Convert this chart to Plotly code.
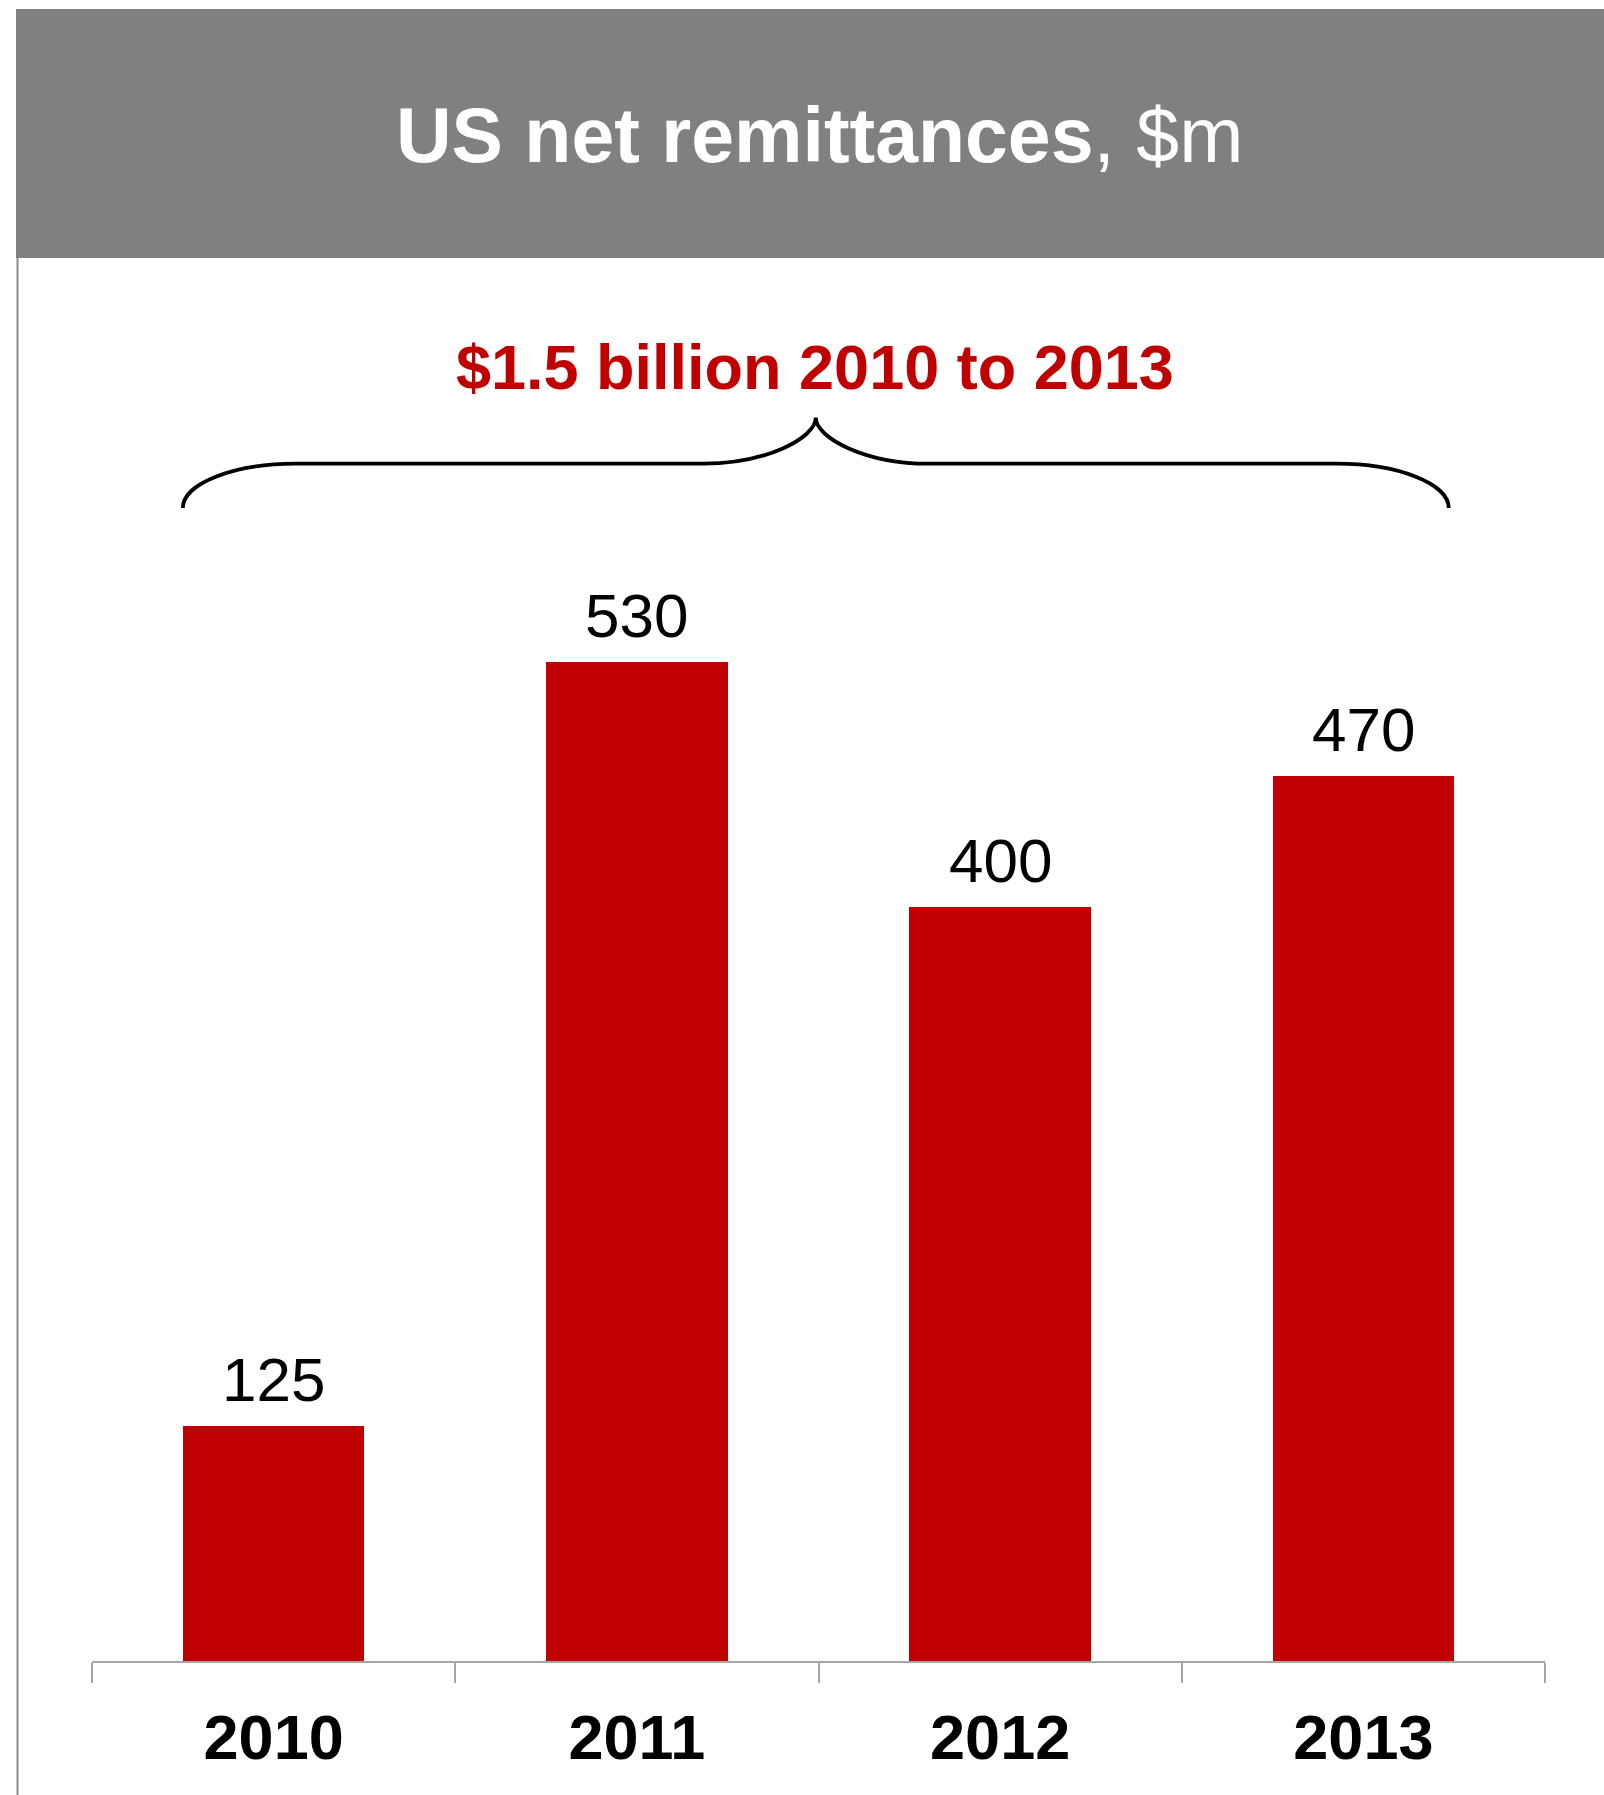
import plotly.graph_objects as go

# Chart data
years = ["2010", "2011", "2012", "2013"]
remittances = [125, 530, 400, 470]
title_main = "US net remittances"
title_unit = ", $m"
total_note = "$1.5 billion 2010 to 2013"

# Styling
RED = "#C00000"
HEADER_GREY = "#808080"
AXIS_GREY = "#A6A6A6"
FONT = "Liberation Sans, Arial, sans-serif"
BAR_W = 0.5

W, H = 1604, 1795
# plot area in page pixels
L, R, T, B = 92, 1545, 259, 1661
Y_MAX = (B - T) / 1.884


def xp(px):
    return (px - L) / (R - L)


def yp(py):
    return (B - py) / (B - T)


x_idx = list(range(len(years)))

fig = go.Figure(
    go.Bar(
        x=x_idx,
        y=remittances,
        width=BAR_W,
        marker=dict(color=RED, line=dict(width=0)),
        hoverinfo="skip",
    )
)

# value labels above each bar
for i, v in zip(x_idx, remittances):
    fig.add_annotation(
        x=i, y=v, xref="x", yref="y", text=str(v), showarrow=False,
        yanchor="bottom", yshift=10,
        font=dict(family=FONT, size=62, color="black"),
    )

# curly brace spanning all bars
xl = x_idx[0] - BAR_W / 2
xr = x_idx[-1] + BAR_W / 2 - 0.015
xm = (xl + xr) / 2
arc = 0.31
y_tip, y_flat, y_peak = 612, 635.5, 660
k = 0.552
brace = (
    f"M {xl},{y_tip} "
    f"C {xl},{y_tip + k * (y_flat - y_tip)} {xl + (1 - k) * arc},{y_flat} {xl + arc},{y_flat} "
    f"L {xm - arc},{y_flat} "
    f"C {xm - (1 - k) * arc},{y_flat} {xm},{y_flat + k * (y_peak - y_flat)} {xm},{y_peak} "
    f"C {xm},{y_flat + k * (y_peak - y_flat)} {xm + (1 - k) * arc},{y_flat} {xm + arc},{y_flat} "
    f"L {xr - arc},{y_flat} "
    f"C {xr - (1 - k) * arc},{y_flat} {xr},{y_tip + k * (y_flat - y_tip)} {xr},{y_tip}"
)
fig.add_shape(type="path", path=brace, xref="x", yref="y",
              line=dict(color="black", width=3.8))

# header band
fig.add_shape(type="rect", xref="paper", yref="paper",
              x0=xp(16), x1=xp(1610), y0=yp(258), y1=yp(9),
              fillcolor=HEADER_GREY, line=dict(width=0), layer="below")
# left frame line
fig.add_shape(type="line", xref="paper", yref="paper",
              x0=xp(17.5), x1=xp(17.5), y0=yp(258), y1=yp(1800),
              line=dict(color="#8C8C8C", width=2))

# header title
fig.add_annotation(
    xref="paper", yref="paper", x=xp(819), y=yp(135),
    text=f"<b>{title_main}</b>{title_unit}", showarrow=False,
    xanchor="center", yanchor="middle",
    font=dict(family=FONT, size=77, color="white"),
)
# total note
fig.add_annotation(
    xref="paper", yref="paper", x=xp(815), y=yp(367),
    text=f"<b>{total_note}</b>", showarrow=False,
    xanchor="center", yanchor="middle",
    font=dict(family=FONT, size=63, color=RED),
)

fig.update_layout(
    width=W, height=H,
    margin=dict(l=L, r=W - R, t=T, b=H - B, pad=0),
    paper_bgcolor="white", plot_bgcolor="white",
    showlegend=False,
    bargap=0,
    xaxis=dict(
        range=[-0.5, len(years) - 0.5],
        tickmode="array", tickvals=x_idx, ticktext=years,
        ticks="", showgrid=False, zeroline=False,
        showline=True, linecolor=AXIS_GREY, linewidth=2,
        tickfont=dict(family=FONT, size=63, color="black", weight="bold"),
        ticklabelstandoff=20,
        minor=dict(tickmode="array",
                   tickvals=[i - 0.5 for i in range(len(years) + 1)],
                   ticks="outside", ticklen=20, tickwidth=2,
                   tickcolor=AXIS_GREY, showgrid=False),
        fixedrange=True,
    ),
    yaxis=dict(range=[0, Y_MAX], visible=False, fixedrange=True),
)

fig.write_html("out.html")
